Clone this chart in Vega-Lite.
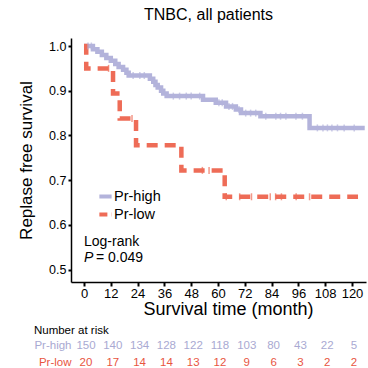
{
  "$schema": "https://vega.github.io/schema/vega-lite/v6.json",
  "background": "white",
  "padding": {"left": 16, "top": 7, "right": 0, "bottom": 0},
  "config": {
    "view": {"stroke": null},
    "font": "Liberation Sans",
    "title": {"font": "Liberation Sans", "fontWeight": "normal", "color": "#000000"},
    "axis": {"labelOverlap": false, "labelFlush": false, "grid": false, "labelColor": "#000000", "titleColor": "#000000", "titleFontWeight": "normal", "tickColor": "#000000", "domainColor": "#000000"},
    "axisX": {"labelOverlap": false},
    "axisQuantitative": {"labelOverlap": false}
  },
  "datasets": {
    "curves": [
      {"t": 0, "s": 1.0, "group": "Pr-high"},
      {"t": 4, "s": 0.993, "group": "Pr-high"},
      {"t": 6, "s": 0.987, "group": "Pr-high"},
      {"t": 8, "s": 0.98, "group": "Pr-high"},
      {"t": 10, "s": 0.973, "group": "Pr-high"},
      {"t": 12, "s": 0.967, "group": "Pr-high"},
      {"t": 14, "s": 0.96, "group": "Pr-high"},
      {"t": 15.5, "s": 0.953, "group": "Pr-high"},
      {"t": 17.5, "s": 0.947, "group": "Pr-high"},
      {"t": 19, "s": 0.94, "group": "Pr-high"},
      {"t": 20, "s": 0.934, "group": "Pr-high"},
      {"t": 29.5, "s": 0.927, "group": "Pr-high"},
      {"t": 31, "s": 0.92, "group": "Pr-high"},
      {"t": 32, "s": 0.913, "group": "Pr-high"},
      {"t": 33, "s": 0.907, "group": "Pr-high"},
      {"t": 34.5, "s": 0.9, "group": "Pr-high"},
      {"t": 35.5, "s": 0.894, "group": "Pr-high"},
      {"t": 37, "s": 0.888, "group": "Pr-high"},
      {"t": 53.3, "s": 0.88, "group": "Pr-high"},
      {"t": 59, "s": 0.873, "group": "Pr-high"},
      {"t": 63.6, "s": 0.865, "group": "Pr-high"},
      {"t": 68, "s": 0.858, "group": "Pr-high"},
      {"t": 70.3, "s": 0.85, "group": "Pr-high"},
      {"t": 79, "s": 0.843, "group": "Pr-high"},
      {"t": 101, "s": 0.817, "group": "Pr-high"},
      {"t": 125.7, "s": 0.817, "group": "Pr-high"},
      {"t": 0, "s": 1.0, "group": "Pr-low"},
      {"t": 1, "s": 0.95, "group": "Pr-low"},
      {"t": 13, "s": 0.894, "group": "Pr-low"},
      {"t": 16, "s": 0.838, "group": "Pr-low"},
      {"t": 23.3, "s": 0.778, "group": "Pr-low"},
      {"t": 43.6, "s": 0.722, "group": "Pr-low"},
      {"t": 63, "s": 0.663, "group": "Pr-low"},
      {"t": 122.7, "s": 0.663, "group": "Pr-low"}
    ],
    "censor": [
      {"t": 1.8, "s": 1.0, "group": "Pr-high"},
      {"t": 3.3, "s": 1.0, "group": "Pr-high"},
      {"t": 22, "s": 0.934, "group": "Pr-high"},
      {"t": 25, "s": 0.934, "group": "Pr-high"},
      {"t": 27, "s": 0.934, "group": "Pr-high"},
      {"t": 40, "s": 0.888, "group": "Pr-high"},
      {"t": 42.8, "s": 0.888, "group": "Pr-high"},
      {"t": 45.8, "s": 0.888, "group": "Pr-high"},
      {"t": 48, "s": 0.888, "group": "Pr-high"},
      {"t": 51.8, "s": 0.888, "group": "Pr-high"},
      {"t": 60.4, "s": 0.873, "group": "Pr-high"},
      {"t": 61.9, "s": 0.873, "group": "Pr-high"},
      {"t": 64.9, "s": 0.865, "group": "Pr-high"},
      {"t": 66.5, "s": 0.865, "group": "Pr-high"},
      {"t": 69.4, "s": 0.858, "group": "Pr-high"},
      {"t": 72.4, "s": 0.85, "group": "Pr-high"},
      {"t": 74.6, "s": 0.85, "group": "Pr-high"},
      {"t": 76.9, "s": 0.85, "group": "Pr-high"},
      {"t": 81.4, "s": 0.843, "group": "Pr-high"},
      {"t": 85.9, "s": 0.843, "group": "Pr-high"},
      {"t": 88, "s": 0.843, "group": "Pr-high"},
      {"t": 90.4, "s": 0.843, "group": "Pr-high"},
      {"t": 94.9, "s": 0.843, "group": "Pr-high"},
      {"t": 97.8, "s": 0.843, "group": "Pr-high"},
      {"t": 104.5, "s": 0.817, "group": "Pr-high"},
      {"t": 107, "s": 0.817, "group": "Pr-high"},
      {"t": 109, "s": 0.817, "group": "Pr-high"},
      {"t": 111, "s": 0.817, "group": "Pr-high"},
      {"t": 113.5, "s": 0.817, "group": "Pr-high"},
      {"t": 116.5, "s": 0.817, "group": "Pr-high"},
      {"t": 121, "s": 0.817, "group": "Pr-high"},
      {"t": 11, "s": 0.95, "group": "Pr-low"},
      {"t": 21.5, "s": 0.838, "group": "Pr-low"},
      {"t": 53, "s": 0.722, "group": "Pr-low"},
      {"t": 56, "s": 0.722, "group": "Pr-low"},
      {"t": 63.7, "s": 0.663, "group": "Pr-low"},
      {"t": 69.7, "s": 0.663, "group": "Pr-low"},
      {"t": 75, "s": 0.663, "group": "Pr-low"},
      {"t": 83.4, "s": 0.663, "group": "Pr-low"},
      {"t": 85.8, "s": 0.663, "group": "Pr-low"},
      {"t": 88.4, "s": 0.663, "group": "Pr-low"},
      {"t": 95, "s": 0.663, "group": "Pr-low"},
      {"t": 101, "s": 0.663, "group": "Pr-low"}
    ],
    "risk": [
      {"t": 0, "n": 150, "group": "Pr-high"},
      {"t": 12, "n": 140, "group": "Pr-high"},
      {"t": 24, "n": 134, "group": "Pr-high"},
      {"t": 36, "n": 128, "group": "Pr-high"},
      {"t": 48, "n": 122, "group": "Pr-high"},
      {"t": 60, "n": 118, "group": "Pr-high"},
      {"t": 72, "n": 103, "group": "Pr-high"},
      {"t": 84, "n": 80, "group": "Pr-high"},
      {"t": 96, "n": 43, "group": "Pr-high"},
      {"t": 108, "n": 22, "group": "Pr-high"},
      {"t": 120, "n": 5, "group": "Pr-high"},
      {"t": 0, "n": 20, "group": "Pr-low"},
      {"t": 12, "n": 17, "group": "Pr-low"},
      {"t": 24, "n": 14, "group": "Pr-low"},
      {"t": 36, "n": 14, "group": "Pr-low"},
      {"t": 48, "n": 13, "group": "Pr-low"},
      {"t": 60, "n": 12, "group": "Pr-low"},
      {"t": 72, "n": 9, "group": "Pr-low"},
      {"t": 84, "n": 6, "group": "Pr-low"},
      {"t": 96, "n": 3, "group": "Pr-low"},
      {"t": 108, "n": 2, "group": "Pr-low"},
      {"t": 120, "n": 2, "group": "Pr-low"}
    ]
  },
  "spacing": 6,
  "resolve": {"scale": {"color": "independent", "x": "independent", "y": "independent"}},
  "vconcat": [
    {
      "width": 295,
      "height": 244,
      "title": {"text": "TNBC, all patients", "fontSize": 16, "anchor": "middle", "dx": -10, "offset": 14},
      "layer": [
        {
          "data": {"name": "curves"},
          "mark": {"type": "line", "interpolate": "step-after", "strokeWidth": 4.5, "strokeCap": "butt"},
          "encoding": {
            "x": {"field": "t", "type": "quantitative",
              "scale": {"domain": [-5.82, 126.27], "nice": false, "zero": false},
              "axis": {"values": [0, 12, 24, 36, 48, 60, 72, 84, 96, 108, 120], "title": "Survival time (month)",
                "titleFontSize": 18, "titleX": 157, "titleY": 32, "titleBaseline": "alphabetic", "titleAlign": "center",
                "labelFontSize": 13, "labelPadding": 1, "labelOverlap": false, "labelSeparation": 0,
                "tickSize": 4, "tickWidth": 2, "domainWidth": 1.5}},
            "y": {"field": "s", "type": "quantitative",
              "scale": {"domain": [0.4725, 1.0179], "nice": false, "zero": false},
              "axis": {"values": [0.5, 0.6, 0.7, 0.8, 0.9, 1.0], "format": ".1f", "title": "Replase free survival",
                "titleFontSize": 17, "titleX": -40, "titleY": 122, "titleBaseline": "alphabetic", "titleAlign": "center",
                "labelFontSize": 12.5, "labelPadding": 2, "labelOverlap": false,
                "tickSize": 3, "tickWidth": 2, "domainWidth": 1.5}},
            "color": {"field": "group", "type": "nominal",
              "scale": {"domain": ["Pr-high", "Pr-low"], "range": ["#b3b3db", "#ee6c57"]},
              "legend": {"title": null, "orient": "none", "legendX": 26, "legendY": 150, "symbolType": "stroke", "symbolSize": 150, "symbolStrokeWidth": 4, "labelFontSize": 14.5, "labelFontWeight": "normal", "labelColor": "#000000", "labelOffset": 0, "rowPadding": 1,
                "encode": {"symbols": {"update": {"strokeDash": {"signal": "datum.value === 'Pr-low' ? [8, 4] : [1, 0]"}}}}}},
            "strokeDash": {"field": "group", "type": "nominal",
              "scale": {"domain": ["Pr-high", "Pr-low"], "range": [[1, 0], [11, 7]]},
              "legend": null}
          }
        },
        {
          "data": {"name": "censor"},
          "mark": {"type": "tick", "orient": "vertical", "size": 7, "thickness": 1.5},
          "encoding": {
            "x": {"field": "t", "type": "quantitative",
              "axis": {"values": [0, 12, 24, 36, 48, 60, 72, 84, 96, 108, 120], "title": "Survival time (month)",
                "titleFontSize": 18, "titleX": 157, "titleY": 32, "titleBaseline": "alphabetic", "titleAlign": "center",
                "labelFontSize": 13, "labelPadding": 1, "labelOverlap": false, "labelSeparation": 0,
                "tickSize": 4, "tickWidth": 2, "domainWidth": 1.5}},
            "y": {"field": "s", "type": "quantitative",
              "axis": {"values": [0.5, 0.6, 0.7, 0.8, 0.9, 1.0], "format": ".1f", "title": "Replase free survival",
                "titleFontSize": 17, "titleX": -40, "titleY": 122, "titleBaseline": "alphabetic", "titleAlign": "center",
                "labelFontSize": 12.5, "labelPadding": 2, "labelOverlap": false,
                "tickSize": 3, "tickWidth": 2, "domainWidth": 1.5}},
            "color": {"field": "group", "type": "nominal"}
          }
        },
        {
          "data": {"values": [{}]},
          "mark": {"type": "text", "align": "left", "baseline": "alphabetic", "fontSize": 14, "color": "#000000"},
          "encoding": {
            "x": {"datum": 0, "type": "quantitative",
              "axis": {"values": [0, 12, 24, 36, 48, 60, 72, 84, 96, 108, 120], "title": "Survival time (month)",
                "titleFontSize": 18, "titleX": 157, "titleY": 32, "titleBaseline": "alphabetic", "titleAlign": "center",
                "labelFontSize": 13, "labelPadding": 1, "labelOverlap": false, "labelSeparation": 0,
                "tickSize": 4, "tickWidth": 2, "domainWidth": 1.5}},
            "y": {"datum": 0.5536, "type": "quantitative",
              "axis": {"values": [0.5, 0.6, 0.7, 0.8, 0.9, 1.0], "format": ".1f", "title": "Replase free survival",
                "titleFontSize": 17, "titleX": -40, "titleY": 122, "titleBaseline": "alphabetic", "titleAlign": "center",
                "labelFontSize": 12.5, "labelPadding": 2, "labelOverlap": false,
                "tickSize": 3, "tickWidth": 2, "domainWidth": 1.5}},
            "text": {"value": "Log-rank"}
          }
        },
        {
          "data": {"values": [{}]},
          "mark": {"type": "text", "align": "left", "baseline": "alphabetic", "fontSize": 14, "fontStyle": "italic", "color": "#000000"},
          "encoding": {
            "x": {"datum": 0, "type": "quantitative",
              "axis": {"values": [0, 12, 24, 36, 48, 60, 72, 84, 96, 108, 120], "title": "Survival time (month)",
                "titleFontSize": 18, "titleX": 157, "titleY": 32, "titleBaseline": "alphabetic", "titleAlign": "center",
                "labelFontSize": 13, "labelPadding": 1, "labelOverlap": false, "labelSeparation": 0,
                "tickSize": 4, "tickWidth": 2, "domainWidth": 1.5}},
            "y": {"datum": 0.5172, "type": "quantitative",
              "axis": {"values": [0.5, 0.6, 0.7, 0.8, 0.9, 1.0], "format": ".1f", "title": "Replase free survival",
                "titleFontSize": 17, "titleX": -40, "titleY": 122, "titleBaseline": "alphabetic", "titleAlign": "center",
                "labelFontSize": 12.5, "labelPadding": 2, "labelOverlap": false,
                "tickSize": 3, "tickWidth": 2, "domainWidth": 1.5}},
            "text": {"value": "P"}
          }
        },
        {
          "data": {"values": [{}]},
          "mark": {"type": "text", "align": "left", "baseline": "alphabetic", "fontSize": 14, "dx": 12, "color": "#000000"},
          "encoding": {
            "x": {"datum": 0, "type": "quantitative",
              "axis": {"values": [0, 12, 24, 36, 48, 60, 72, 84, 96, 108, 120], "title": "Survival time (month)",
                "titleFontSize": 18, "titleX": 157, "titleY": 32, "titleBaseline": "alphabetic", "titleAlign": "center",
                "labelFontSize": 13, "labelPadding": 1, "labelOverlap": false, "labelSeparation": 0,
                "tickSize": 4, "tickWidth": 2, "domainWidth": 1.5}},
            "y": {"datum": 0.5172, "type": "quantitative",
              "axis": {"values": [0.5, 0.6, 0.7, 0.8, 0.9, 1.0], "format": ".1f", "title": "Replase free survival",
                "titleFontSize": 17, "titleX": -40, "titleY": 122, "titleBaseline": "alphabetic", "titleAlign": "center",
                "labelFontSize": 12.5, "labelPadding": 2, "labelOverlap": false,
                "tickSize": 3, "tickWidth": 2, "domainWidth": 1.5}},
            "text": {"value": "= 0.049"}
          }
        }
      ]
    },
    {
      "width": 295,
      "height": 34,
      "title": {"text": "Number at risk", "anchor": "start", "fontSize": 11.5, "offset": 1},
      "data": {"name": "risk"},
      "mark": {"type": "text", "fontSize": 11.5, "dx": 2},
      "encoding": {
        "x": {"field": "t", "type": "quantitative", "scale": {"domain": [-5.82, 126.27], "nice": false, "zero": false}, "axis": null},
        "y": {"field": "group", "type": "nominal", "scale": {"domain": ["Pr-high", "Pr-low"]},
          "axis": {"title": null, "domain": false, "ticks": false, "labelFontSize": 11.5, "labelPadding": 0,
            "labelColor": {"condition": {"test": "datum.value === 'Pr-high'", "value": "#a9a9d2"}, "value": "#e8553f"}}},
        "text": {"field": "n", "type": "quantitative"},
        "color": {"field": "group", "type": "nominal", "scale": {"domain": ["Pr-high", "Pr-low"], "range": ["#a9a9d2", "#e8553f"]}, "legend": null}
      }
    }
  ]
}
